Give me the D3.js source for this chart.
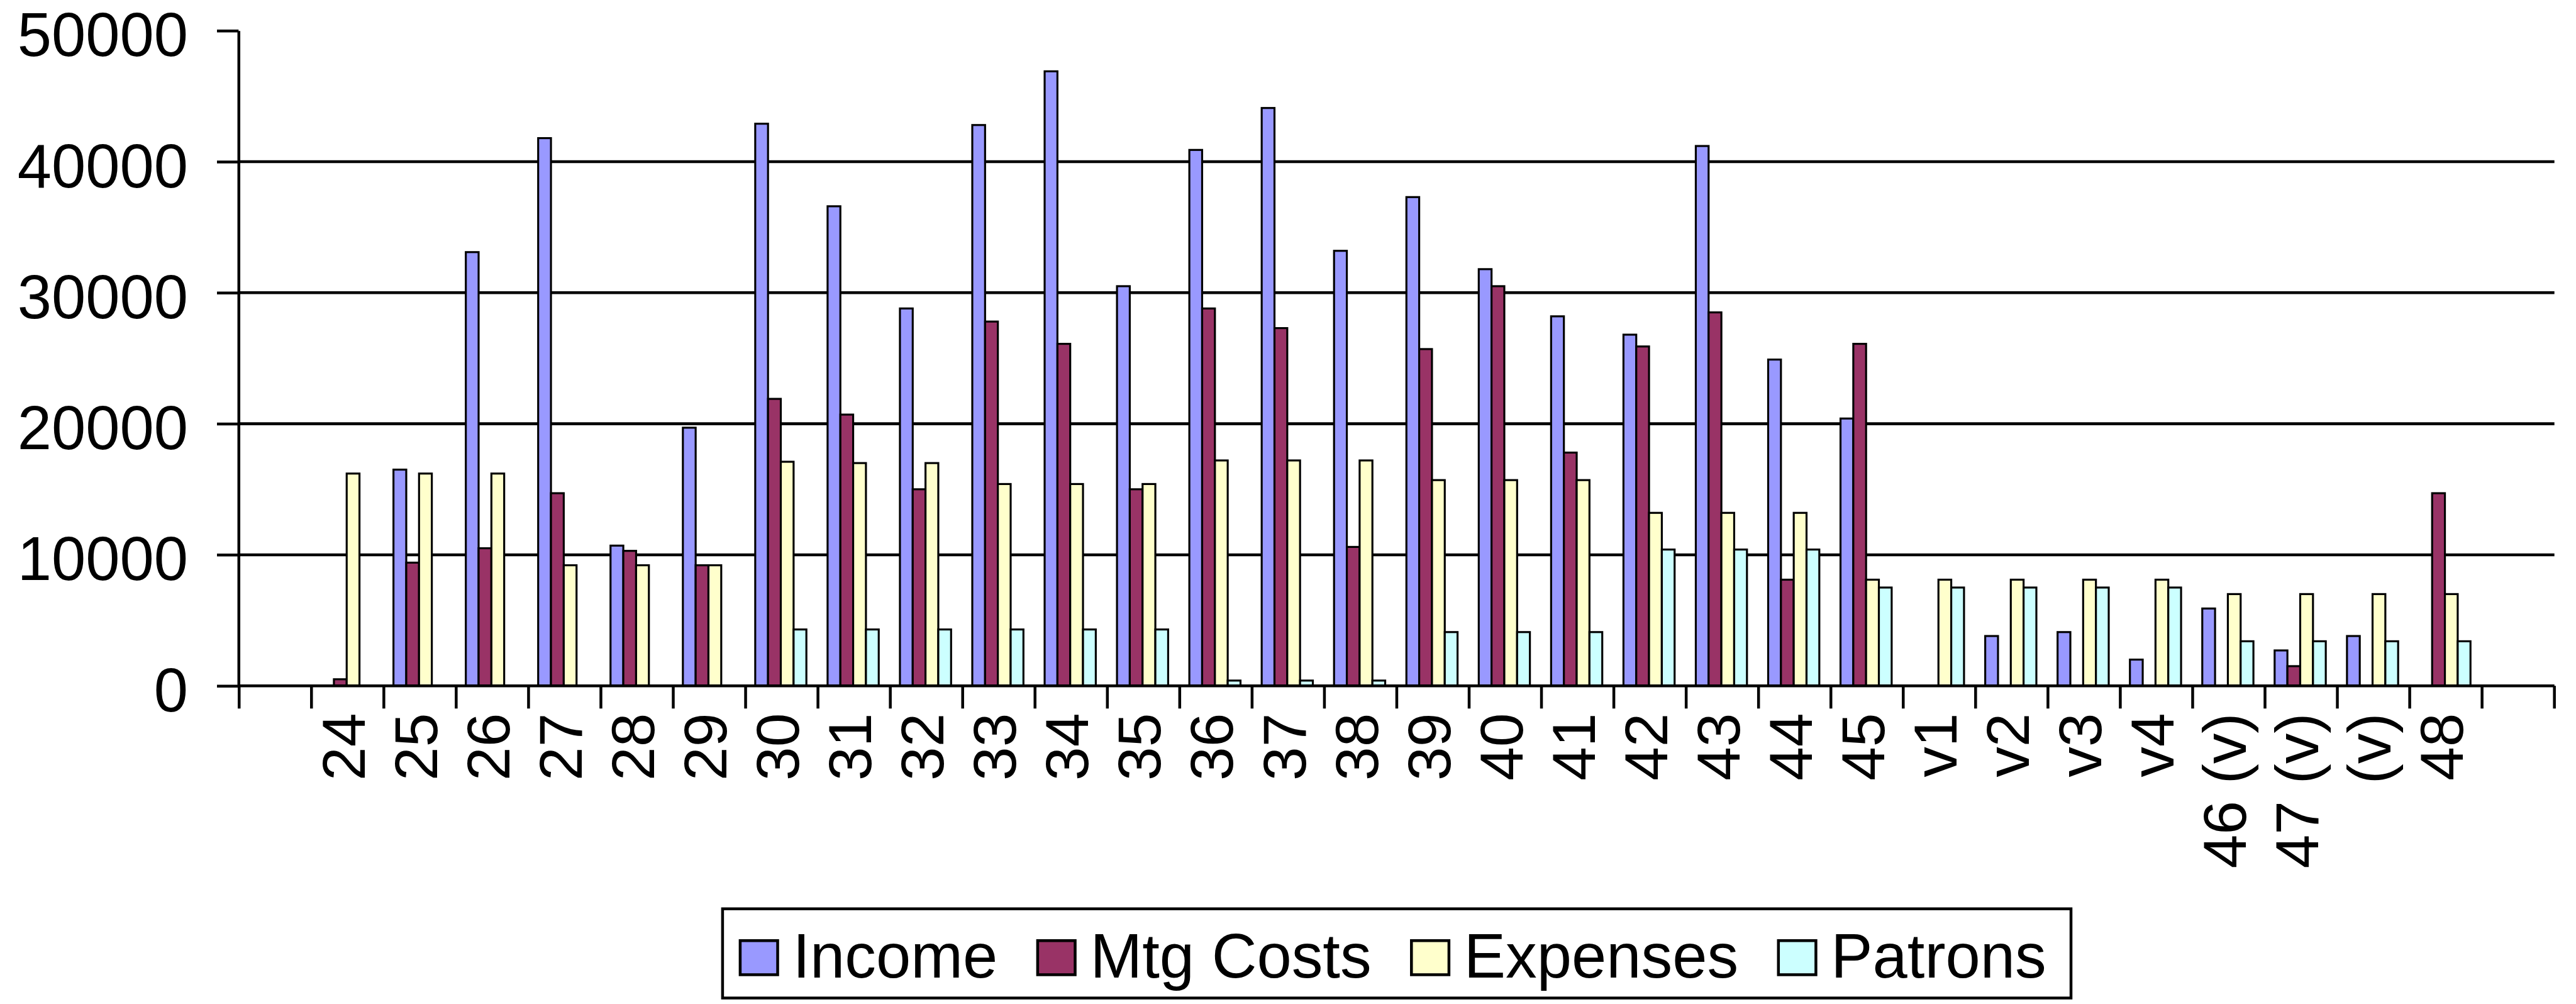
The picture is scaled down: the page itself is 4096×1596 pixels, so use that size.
<!DOCTYPE html>
<html>
<head>
<meta charset="utf-8">
<script src="https://cdn.jsdelivr.net/npm/d3@7"></script>
<style>
html,body{margin:0;padding:0;background:#fff;overflow:hidden}
svg{display:block}
</style>
</head>
<body>
<svg id="chart"></svg>
<script>
// ---------- data ----------
const categories = ["24","25","26","27","28","29","30","31","32","33","34","35","36","37","38","39","40","41","42","43","44","45","v1","v2","v3","v4","46 (v)","47 (v)","(v)","48"];
const seriesNames = ["Income","Mtg Costs","Expenses","Patrons"];
const income   = [null,16500,33100,41800,10700,19700,42900,36600,28800,42800,46900,30500,40900,44100,33200,37300,31800,28200,26800,41200,24900,20400,null,3800,4100,2000,5900,2700,3800,null];
const mtgCosts = [500,9400,10500,14700,10300,9200,21900,20700,15000,27800,26100,15000,28800,27300,10600,25700,30500,17800,25900,28500,8100,26100,null,null,null,null,null,1500,null,14700];
const expenses = [16200,16200,16200,9200,9200,9200,17100,17000,17000,15400,15400,15400,17200,17200,17200,15700,15700,15700,13200,13200,13200,8100,8100,8100,8100,8100,7000,7000,7000,7000];
const patrons  = [null,null,null,null,null,null,4300,4300,4300,4300,4300,4300,400,400,400,4100,4100,4100,10400,10400,10400,7500,7500,7500,7500,7500,3400,3400,3400,3400];
const yTickValues = [0,10000,20000,30000,40000,50000];
const gridValues = [10000,20000,30000,40000];
const seriesColors = ["#9999FF","#993366","#FFFFCC","#CCFFFF"];

// ---------- layout (reference coordinates, scaled by viewBox) ----------
const W = 4535, H = 1767;
const FONT = "'Liberation Sans', Arial, sans-serif";
const svg = d3.select("#chart")
  .attr("width", 4096).attr("height", 1596)
  .attr("viewBox", `0 0 ${W} ${H}`);
svg.append("rect").attr("width", W).attr("height", H).attr("fill", "#fff");

const plotL = 421, plotR = 4497, plotT = 54, plotB = 1207;

const x = d3.scaleBand().domain(categories).range([plotL, plotR]).paddingInner(0).paddingOuter(1);
const step = x.step();
const x1 = d3.scaleBand().domain(seriesNames).range([0, step * 0.707]);
const groupOffset = step * 0.133;
const y = d3.scaleLinear().domain([0, 50000]).range([plotB, plotT]);

const seriesData = [income, mtgCosts, expenses, patrons];

// gridlines
svg.append("g").selectAll("line").data(gridValues).join("line")
  .attr("x1", plotL - 2).attr("x2", plotR)
  .attr("y1", d => y(d)).attr("y2", d => y(d))
  .attr("stroke", "#000").attr("stroke-width", 5);

// bars
const bars = [];
categories.forEach((c, i) => {
  seriesNames.forEach((s, j) => {
    const v = seriesData[j][i];
    if (v != null) bars.push({c, s, j, v});
  });
});
svg.append("g").selectAll("rect").data(bars).join("rect")
  .attr("x", d => x(d.c) + groupOffset + x1(d.s))
  .attr("y", d => y(d.v))
  .attr("width", x1.bandwidth())
  .attr("height", d => plotB - y(d.v))
  .attr("fill", d => seriesColors[d.j])
  .attr("stroke", "#000")
  .attr("stroke-width", 3.5);

// y axis
const yAxis = d3.axisLeft(y).tickValues(yTickValues).tickSize(38).tickSizeOuter(0)
  .tickPadding(51).tickFormat(d3.format("d"));
const gy = svg.append("g").attr("transform", `translate(${plotL - 1},0)`).call(yAxis)
  .attr("font-family", FONT).attr("font-size", 108);
gy.select(".domain").attr("stroke", "#000").attr("stroke-width", 5);
gy.selectAll(".tick line").attr("stroke", "#000").attr("stroke-width", 5);
gy.selectAll(".tick text").attr("fill", "#000").attr("dy", "0.41em");

// x axis line + ticks
const gx = svg.append("g");
gx.append("line").attr("x1", plotL - 1).attr("x2", plotR).attr("y1", plotB).attr("y2", plotB)
  .attr("stroke", "#000").attr("stroke-width", 5);
const boundaries = d3.range(0, categories.length + 3).map(k => x.range()[0] + k * step);
gx.selectAll("line.tk").data(boundaries).join("line").attr("class", "tk")
  .attr("x1", d => d).attr("x2", d => d)
  .attr("y1", plotB).attr("y2", plotB + 40)
  .attr("stroke", "#000").attr("stroke-width", 5);
gx.selectAll("text").data(categories).join("text")
  .attr("transform", d => `translate(${x(d) + step / 2},1255) rotate(-90)`)
  .attr("text-anchor", "end")
  .attr("y", 30)
  .attr("font-family", FONT).attr("font-size", 107).attr("fill", "#000")
  .text(d => d);

// legend
const legendFont = 110;
const lg = svg.append("g");
const items = lg.selectAll("g").data(seriesNames).join("g");
items.append("rect")
  .attr("x", 2.5).attr("y", 1655.5).attr("width", 66).attr("height", 60)
  .attr("fill", (d, i) => seriesColors[i]).attr("stroke", "#000").attr("stroke-width", 5);
items.append("text")
  .attr("x", 95).attr("y", 1720)
  .attr("font-family", FONT).attr("font-size", legendFont).attr("fill", "#000")
  .text(d => d);
let cursor = 0;
const offsets = [];
items.each(function(d, i) {
  const len = d3.select(this).select("text").node().getComputedTextLength();
  offsets.push(cursor);
  d3.select(this).attr("data-len", len);
  cursor += 95 + len + (i < seriesNames.length - 1 ? 68 : 0);
});
const innerW = cursor;
const boxW = 31 + innerW + 46;
const boxLeft = (plotL + plotR) / 2 - boxW / 2;
items.attr("transform", (d, i) => `translate(${boxLeft + 31 + offsets[i]},0)`);
lg.insert("rect", ":first-child")
  .attr("x", boxLeft + 2.5).attr("y", 1599.5)
  .attr("width", boxW - 5).attr("height", 157)
  .attr("fill", "#fff").attr("stroke", "#000").attr("stroke-width", 5);
</script>
</body>
</html>
